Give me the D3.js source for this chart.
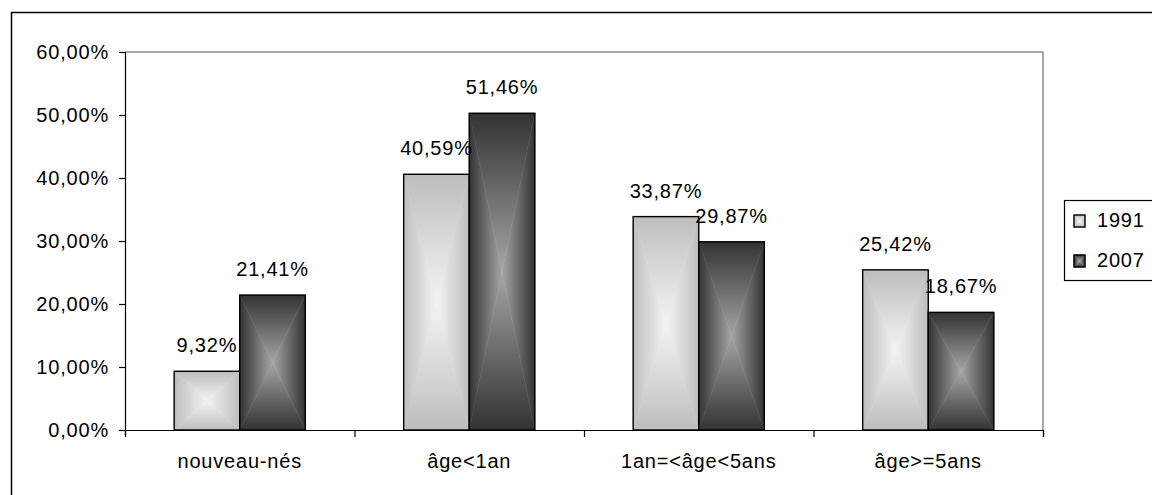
<!DOCTYPE html>
<html><head><meta charset="utf-8">
<script src="https://cdn.jsdelivr.net/npm/d3@7"></script>
<style>
html,body{margin:0;padding:0;background:#fff;overflow:hidden;}
text{font-family:"Liberation Sans",Arial,sans-serif;font-size:20px;fill:#000;letter-spacing:0.8px;}
</style></head>
<body>
<svg id="chart" width="1152" height="495"></svg>
<script>
const categories = ["nouveau-nés", "âge<1an", "1an=<âge<5ans", "âge>=5ans"];
const series = ["1991", "2007"];
const values1991 = [9.32, 40.59, 33.87, 25.42];
const values2007 = [21.41, 50.27, 29.87, 18.67];
const labels1991 = ["9,32%", "40,59%", "33,87%", "25,42%"];
const labels2007 = ["21,41%", "51,46%", "29,87%", "18,67%"];
const yTicks = [0, 10, 20, 30, 40, 50, 60];

const seriesValues = [values1991, values2007];
const seriesLabels = [labels1991, labels2007];
const grads = {
  "1991": [["0", "#bdbdbd"], ["0.45", "#d6d6d6"], ["1", "#f3f3f3"]],
  "2007": [["0", "#333333"], ["0.35", "#5a5a5a"], ["1", "#a6a6a6"]]
};

const svg = d3.select("#chart");
const L = 125, R = 1043, T = 52, B = 430;

// outer frame
svg.append("rect").attr("x", 11.5).attr("y", 12.5).attr("width", 1300).attr("height", 700)
  .attr("fill", "none").attr("stroke", "#000").attr("stroke-width", 1.5);

const x = d3.scaleBand().domain(categories).range([L, R]).padding(0);
const x1 = d3.scaleBand().domain(series).range([0, x.bandwidth()]).paddingInner(0).paddingOuter(0.75);
const y = d3.scaleLinear().domain([0, 60]).range([B, T]);

// gradients
const defs = svg.append("defs");
series.forEach(s => {
  const dirs = {top: [0,0,0,1], bottom: [0,1,0,0], left: [0,0,1,0], right: [1,0,0,0]};
  Object.entries(dirs).forEach(([k, v]) => {
    const g = defs.append("linearGradient").attr("id", `g${s}${k}`)
      .attr("x1", v[0]).attr("y1", v[1]).attr("x2", v[2]).attr("y2", v[3]);
    grads[s].forEach(st => g.append("stop").attr("offset", st[0]).attr("stop-color", st[1]));
  });
});

function boxGradient(g, s, x0, y0, w, h) {
  const x1_ = x0 + w, y1_ = y0 + h, cx = x0 + w / 2, cy = y0 + h / 2;
  const tris = [
    ["top", [[x0, y0], [x1_, y0], [cx, cy]]],
    ["bottom", [[x0, y1_], [x1_, y1_], [cx, cy]]],
    ["left", [[x0, y0], [x0, y1_], [cx, cy]]],
    ["right", [[x1_, y0], [x1_, y1_], [cx, cy]]]
  ];
  tris.forEach(([k, pts]) => {
    g.append("path").attr("d", d3.line()(pts) + "Z")
      .attr("fill", `url(#g${s}${k})`).attr("stroke", `url(#g${s}${k})`).attr("stroke-width", 0.6);
  });
  g.append("rect").attr("x", x0).attr("y", y0).attr("width", w).attr("height", h)
    .attr("fill", "none").attr("stroke", "#000").attr("stroke-width", 1.4);
}

// plot area border (top, right)
svg.append("path").attr("d", `M${L},${T}H${R}V${B}`).attr("fill", "none")
  .attr("stroke", "#8c8c8c").attr("stroke-width", 1.5);

// bars
categories.forEach((c, i) => {
  series.forEach((s, j) => {
    const v = seriesValues[j][i];
    const bx = x(c) + x1(s), bw = x1.bandwidth();
    const g = svg.append("g");
    boxGradient(g, s, bx, y(v), bw, y(0) - y(v));
  });
});

// axes
const yAxis = svg.append("g").attr("transform", `translate(${L},0)`)
  .call(d3.axisLeft(y).tickValues(yTicks).tickSizeOuter(0).tickSize(6).tickPadding(10)
    .tickFormat(d => d.toFixed(2).replace(".", ",") + "%"));
yAxis.selectAll("path,line").attr("stroke", "#000").attr("stroke-width", 1.2);
yAxis.selectAll("text").attr("font-size", null).attr("font-family", null).attr("fill", "#000");

const xb = d3.scaleLinear().domain([0, categories.length]).range([L, R]);
const xAxis = svg.append("g").attr("transform", `translate(0,${B})`)
  .call(d3.axisBottom(xb).tickValues(d3.range(categories.length + 1)).tickFormat("").tickSizeOuter(0).tickSize(7));
xAxis.selectAll("path,line").attr("stroke", "#000").attr("stroke-width", 1.2);

// category labels
svg.append("g").selectAll("text").data(categories).join("text")
  .attr("x", d => x(d) + x.bandwidth() / 2).attr("y", 468)
  .attr("text-anchor", "middle").text(d => d);

// data labels
categories.forEach((c, i) => {
  series.forEach((s, j) => {
    const v = seriesValues[j][i];
    svg.append("text").attr("x", x(c) + x1(s) + x1.bandwidth() / 2).attr("y", y(v) - 19)
      .attr("text-anchor", "middle").text(seriesLabels[j][i]);
  });
});

// legend
const leg = svg.append("g");
leg.append("rect").attr("x", 1064.5).attr("y", 200.5).attr("width", 200).attr("height", 80)
  .attr("fill", "#fff").attr("stroke", "#000").attr("stroke-width", 1.2);
series.forEach((s, j) => {
  const ly = 215 + j * 40;
  boxGradient(leg, s, 1074, ly, 11, 12);
  leg.append("text").attr("x", 1097).attr("y", ly + 12).text(s);
});
</script>
</body></html>
